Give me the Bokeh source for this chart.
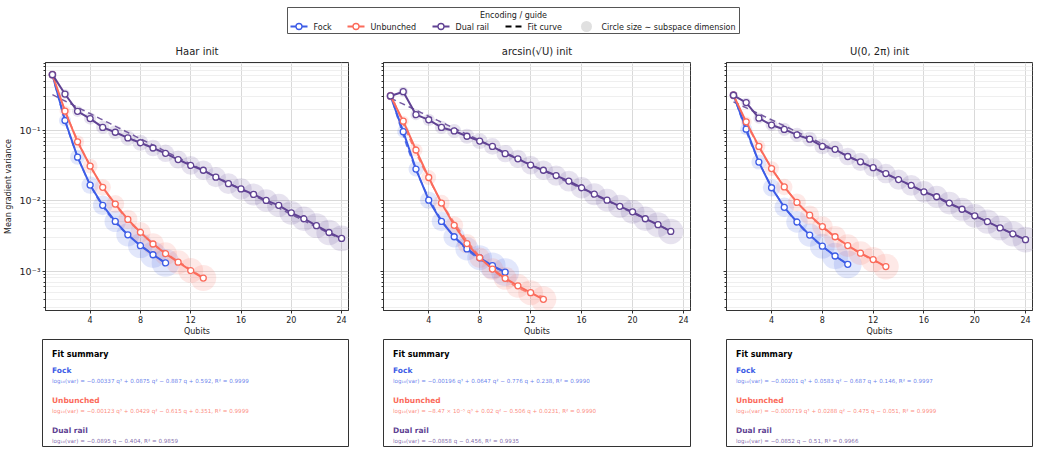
import numpy as np
from bokeh.plotting import figure
from bokeh.layouts import column, row
from bokeh.models import Range1d, FixedTicker, CustomJSTickFormatter
from bokeh.core.properties import value
from bokeh.embed import file_html
from bokeh.resources import INLINE

# ---------------------------------------------------------------- data
panel_titles = ["Haar init", "arcsin(√U) init", "U(0, 2π) init"]
encodings = ["Fock", "Unbunched", "Dual rail"]

qubits_fock = [1, 2, 3, 4, 5, 6, 7, 8, 9, 10]
qubits_unbunched = [1, 2, 3, 4, 5, 6, 7, 8, 9, 10, 11, 12, 13]
qubits_dual_24 = [1, 2, 3, 4, 5, 6, 7, 8, 9, 10, 11, 12, 13, 14, 15, 16, 17, 18, 19, 20, 21, 22, 23, 24]
qubits_dual_23 = [1, 2, 3, 4, 5, 6, 7, 8, 9, 10, 11, 12, 13, 14, 15, 16, 17, 18, 19, 20, 21, 22, 23]

# mean gradient variance per qubit count
haar_fock = [0.618, 0.138, 0.0416, 0.0167, 0.0086, 0.00509, 0.00328, 0.00230, 0.00171, 0.00131]
haar_unbunched = [0.618, 0.188, 0.0687, 0.0311, 0.0155, 0.00898, 0.00543, 0.00357, 0.00243,
                  0.00177, 0.00134, 0.00102, 0.000798]
haar_dual = [0.618, 0.328, 0.186, 0.147, 0.110, 0.094, 0.078, 0.0666, 0.0561, 0.0472, 0.0385, 0.0318,
             0.0271, 0.0216, 0.0175, 0.0147, 0.0123, 0.0101, 0.0086, 0.00673, 0.00555, 0.00443,
             0.00354, 0.00292]

asin_fock = [0.308, 0.0958, 0.0282, 0.0102, 0.00509, 0.00308, 0.00207, 0.00155, 0.00120, 0.000968]
asin_unbunched = [0.308, 0.135, 0.0526, 0.0214, 0.00927, 0.00448, 0.00246, 0.00155, 0.00107,
                  0.000790, 0.000618, 0.000494, 0.000398]
asin_dual = [0.308, 0.354, 0.167, 0.141, 0.110, 0.098, 0.0825, 0.0703, 0.0592, 0.0467, 0.0394, 0.0321,
             0.0271, 0.0228, 0.0190, 0.0153, 0.0124, 0.0102, 0.00834, 0.00695, 0.00555, 0.00457,
             0.00366]

unif_fock = [0.315, 0.104, 0.0354, 0.0153, 0.00807, 0.00499, 0.00325, 0.00226, 0.00164, 0.00125]
unif_unbunched = [0.315, 0.132, 0.0592, 0.0286, 0.0157, 0.00948, 0.00624, 0.00429, 0.00308,
                  0.00231, 0.00180, 0.00146, 0.00116]
unif_dual = [0.315, 0.248, 0.149, 0.119, 0.103, 0.0861, 0.0748, 0.0592, 0.0537, 0.0425, 0.0357, 0.0295,
             0.0243, 0.0200, 0.0165, 0.0134, 0.0114, 0.00927, 0.00757, 0.00611, 0.00504, 0.00411,
             0.00339, 0.00280]

# polynomial fits of log10(var) in q (highest power first) and their R^2
haar_fit_fock = [-0.00337, 0.0875, -0.887, 0.592]
haar_fit_unbunched = [-0.00123, 0.0429, -0.615, 0.351]
haar_fit_dual = [-0.0895, -0.404]
asin_fit_fock = [-0.00196, 0.0647, -0.776, 0.238]
asin_fit_unbunched = [-8.47e-5, 0.02, -0.506, 0.0231]
asin_fit_dual = [-0.0858, -0.456]
unif_fit_fock = [-0.00201, 0.0583, -0.687, 0.146]
unif_fit_unbunched = [-0.000719, 0.0288, -0.475, -0.051]
unif_fit_dual = [-0.0852, -0.51]

haar_r2 = [0.9999, 0.9999, 0.9859]
asin_r2 = [0.9990, 0.9990, 0.9935]
unif_r2 = [0.9997, 0.9999, 0.9966]

x_ticks = [4, 8, 12, 16, 20, 24]

# ---------------------------------------------------------------- style
FONT = "DejaVu Sans"
COLORS = {"Fock": "#3d5ce6", "Unbunched": "#fb6b5b", "Dual rail": "#604293"}
HALO_GROWTH = {"Fock": 78, "Unbunched": 50, "Dual rail": 26}
SUP = str.maketrans("-0123456789", "⁻⁰¹²³⁴⁵⁶⁷⁸⁹")


def halo_size(q, enc):
    return np.sqrt(70 + HALO_GROWTH[enc] * (np.asarray(q) - 1))


def fmt_num(c):
    s = format(abs(c), ".3g")
    if "e" in s:
        m, e = s.split("e")
        s = f"{m} × 10{str(int(e)).translate(SUP)}"
    return s


def fit_label(coefs, r2):
    deg = len(coefs) - 1
    parts = []
    for i, c in enumerate(coefs):
        pw = deg - i
        term = fmt_num(c)
        if pw == 1:
            term += " q"
        elif pw > 1:
            term += " q" + str(pw).translate(SUP)
        sign = "−" if c < 0 else "+"
        if i == 0:
            parts.append(("−" if c < 0 else "") + term)
        else:
            parts.append(f" {sign} {term}")
    return "log₁₀(var) = " + "".join(parts) + f",  R² = {r2:.4f}"


panels = [
    (panel_titles[0], [(qubits_fock, haar_fock), (qubits_unbunched, haar_unbunched), (qubits_dual_24, haar_dual)],
     [haar_fit_fock, haar_fit_unbunched, haar_fit_dual], haar_r2),
    (panel_titles[1], [(qubits_fock, asin_fock), (qubits_unbunched, asin_unbunched), (qubits_dual_23, asin_dual)],
     [asin_fit_fock, asin_fit_unbunched, asin_fit_dual], asin_r2),
    (panel_titles[2], [(qubits_fock, unif_fock), (qubits_unbunched, unif_unbunched), (qubits_dual_24, unif_dual)],
     [unif_fit_fock, unif_fit_unbunched, unif_fit_dual], unif_r2),
]

# (figure width, left border, right border) for the three columns
columns = [(366, 42, 18), (341, 17, 17), (332, 19, 7)]

y_range = Range1d(2.76e-4, 0.92)
decades = [1e-4, 1e-3, 1e-2, 1e-1, 1.0]
minor = [k * 10.0 ** e for e in range(-4, 0) for k in range(2, 10)]

sup_js = """
const s = {'-':'⁻','0':'⁰','1':'¹','2':'²','3':'³','4':'⁴','5':'⁵','6':'⁶','7':'⁷','8':'⁸','9':'⁹'};
const e = String(Math.round(Math.log10(tick)));
return '10' + e.split('').map(c => s[c]).join('');
"""

# ---------------------------------------------------------------- legend strip
leg = figure(width=1039, height=37, x_range=Range1d(0, 1039), y_range=Range1d(37, 0),
             output_backend="svg", toolbar_location=None, min_border=0)
leg.axis.visible = False
leg.grid.visible = False
leg.outline_line_color = None
leg.quad(left=[287], right=[739], top=[7], bottom=[33], fill_color="white",
         line_color="#555555", line_width=1)
leg.text(x=[513], y=[15], text=["Encoding / guide"], text_font=value(FONT), text_font_size="8px",
         text_align="center", text_baseline="middle", text_color="#222222")
for enc, x0 in zip(encodings, [290, 347, 432]):
    leg.line(x=[x0, x0 + 17], y=[26, 26], line_color=COLORS[enc], line_width=2)
    leg.scatter(x=[x0 + 8.5], y=[26], size=6, fill_color="white", line_color=COLORS[enc], line_width=1.3)
    leg.text(x=[x0 + 23], y=[26.5], text=[enc], text_font=value(FONT), text_font_size="8px",
             text_baseline="middle", text_color="#222222")
leg.line(x=[505, 521], y=[26, 26], line_color="black", line_width=1.8, line_dash="6 4")
leg.text(x=[527], y=[26.5], text=["Fit curve"], text_font=value(FONT), text_font_size="8px",
         text_baseline="middle", text_color="#222222")
leg.scatter(x=[586], y=[26], size=11, fill_color="#cccccc", fill_alpha=0.6, line_color=None)
leg.text(x=[601], y=[26.5], text=["Circle size ∼ subspace dimension"], text_font=value(FONT),
         text_font_size="8px", text_baseline="middle", text_color="#222222")

# ---------------------------------------------------------------- panels
plots = []
boxes = []
for idx, ((title, series, fits, r2s), (w, bl, br)) in enumerate(zip(panels, columns)):
    p = figure(width=w, height=301, y_axis_type="log", x_range=Range1d(0.45, 24.55), y_range=y_range,
               output_backend="svg", toolbar_location=None, min_border_left=bl, min_border_right=br,
               min_border_top=25, min_border_bottom=24, title=title)
    p.title.align = "center"
    p.title.text_font = FONT
    p.title.text_font_size = "10px"
    p.title.text_font_style = "normal"
    p.title.text_color = "#222222"
    p.title.standoff = 12
    p.outline_line_color = "#333333"
    p.outline_line_alpha = 1

    p.xaxis.ticker = FixedTicker(ticks=x_ticks)
    yt = FixedTicker(ticks=decades, minor_ticks=minor)
    p.yaxis.ticker = yt
    p.ygrid.ticker = yt
    if idx == 0:
        p.yaxis.formatter = CustomJSTickFormatter(code=sup_js)
        p.yaxis.axis_label = "Mean gradient variance"
        p.yaxis.axis_label_standoff = 4
    else:
        p.yaxis.formatter = CustomJSTickFormatter(code="return '';")
    p.xaxis.axis_label = "Qubits"
    p.xaxis.axis_label_standoff = 1
    for ax in (p.xaxis[0], p.yaxis[0]):
        ax.axis_label_text_font = FONT
        ax.axis_label_text_font_size = "8px"
        ax.axis_label_text_font_style = "normal"
        ax.axis_label_text_color = "#222222"
        ax.major_label_text_font = FONT
        ax.major_label_text_font_size = "8px"
        ax.major_label_text_color = "#222222"
        ax.axis_line_color = "#333333"
        ax.major_tick_line_color = "#333333"
        ax.minor_tick_line_color = "#333333"
        ax.major_tick_in = 0
        ax.major_tick_out = 3
        ax.minor_tick_in = 0
        ax.minor_tick_out = 2
        ax.major_label_standoff = 2
    p.yaxis.major_label_text_font_size = "9.5px"
    p.xaxis.minor_tick_line_color = None

    p.xgrid.grid_line_color = "#cfcfcf"
    p.xgrid.grid_line_alpha = 0.8
    p.ygrid.grid_line_color = "#cfcfcf"
    p.ygrid.grid_line_alpha = 0.8
    p.ygrid.minor_grid_line_color = "#ebebeb"
    p.ygrid.minor_grid_line_alpha = 0.8

    # size halos behind everything
    for enc, (q, v) in zip(encodings, series):
        p.scatter(x=q, y=v, size=halo_size(q, enc), fill_color=COLORS[enc], fill_alpha=0.15,
                  line_color=None)
    # fitted curves
    for enc, (q, v), coefs in zip(encodings, series, fits):
        qq = np.linspace(min(q), max(q), 120)
        p.line(x=qq, y=10.0 ** np.polyval(coefs, qq), line_color=COLORS[enc], line_width=1.5,
               line_dash="6 4", line_alpha=0.85)
    # measured series
    for enc, (q, v) in zip(encodings, series):
        p.line(x=q, y=v, line_color=COLORS[enc], line_width=2)
        p.scatter(x=q, y=v, size=6, fill_color="white", line_color=COLORS[enc], line_width=1.3)
    plots.append(p)

    # fit summary box
    plot_w = w - bl - br
    b = figure(width=w, height=128, x_range=Range1d(0, plot_w), y_range=Range1d(107, 0),
               output_backend="svg", toolbar_location=None, min_border_left=bl, min_border_right=br,
               min_border_top=1, min_border_bottom=20)
    b.axis.visible = False
    b.grid.visible = False
    b.outline_line_color = "#333333"
    b.outline_line_alpha = 1
    tx = 9.5
    b.text(x=[tx], y=[14.5], text=["Fit summary"], text_font=value(FONT), text_font_size="8px",
           text_font_style="bold", text_baseline="middle", text_color="black")
    for k, (enc, coefs, r2) in enumerate(zip(encodings, fits, r2s)):
        y0 = 30.5 + 30 * k
        b.text(x=[tx], y=[y0], text=[enc], text_font=value(FONT), text_font_size="7.5px",
               text_font_style="bold", text_baseline="middle", text_color=COLORS[enc])
        b.text(x=[tx], y=[y0 + 11], text=[fit_label(coefs, r2)], text_font=value(FONT),
               text_font_size="5.6px", text_baseline="middle", text_color=COLORS[enc], text_alpha=0.8)
    boxes.append(b)

layout = column(leg, row(*plots), row(*boxes))
open("out.html", "w").write(file_html(layout, INLINE))
